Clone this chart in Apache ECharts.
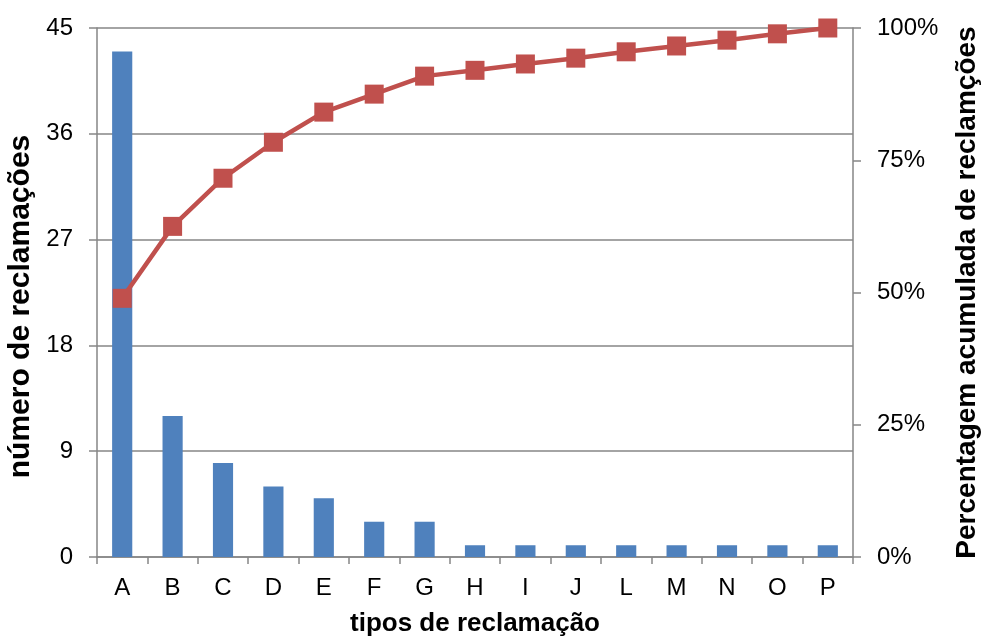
<!DOCTYPE html>
<html>
<head>
<meta charset="utf-8">
<script src="https://cdn.jsdelivr.net/npm/echarts@6/dist/echarts.min.js"></script>
<style>
  html, body { margin: 0; padding: 0; background: #fff; }
  #chart { width: 983px; height: 638px; }
</style>
</head>
<body>
<div id="chart"></div>
<script>
// tipos de reclamação
const categories = ['A', 'B', 'C', 'D', 'E', 'F', 'G', 'H', 'I', 'J', 'L', 'M', 'N', 'O', 'P'];
// número de reclamações
const counts = [43, 12, 8, 6, 5, 3, 3, 1, 1, 1, 1, 1, 1, 1, 1];
// percentagem acumulada (%)
const cumulative = [48.9, 62.5, 71.6, 78.4, 84.1, 87.5, 90.9, 92.0, 93.2, 94.3, 95.5, 96.6, 97.7, 98.9, 100];

const font = 'Liberation Sans, Arial, sans-serif';
const axisGray = '#868686';

const chart = echarts.init(document.getElementById('chart'));
chart.setOption({
  animation: false,
  textStyle: { fontFamily: font },
  grid: { left: 97, right: 130, top: 28, bottom: 81, containLabel: false, outerBoundsMode: 'none' },
  xAxis: {
    type: 'category',
    data: categories,
    name: 'tipos de reclamação',
    nameLocation: 'middle',
    nameGap: 54,
    nameTextStyle: { fontSize: 26, fontWeight: 'bold', color: '#000', fontFamily: font },
    axisLine: { lineStyle: { color: axisGray, width: 1.5 } },
    axisTick: { show: true, length: 7, alignWithLabel: false, lineStyle: { color: axisGray, width: 1.5 } },
    axisLabel: { fontSize: 24, color: '#000', margin: 19, fontFamily: font }
  },
  yAxis: [
    {
      type: 'value',
      min: 0, max: 45, interval: 9,
      name: 'número de reclamações',
      nameLocation: 'middle',
      nameGap: 58,
      nameRotate: 90,
      nameTextStyle: { fontSize: 30, fontWeight: 'bold', color: '#000', fontFamily: font, padding: [0, 28, 0, 0] },
      axisLine: { show: true, lineStyle: { color: axisGray, width: 1.5 } },
      axisTick: { show: true, length: 8, lineStyle: { color: axisGray, width: 1.5 } },
      axisLabel: { fontSize: 24, color: '#000', margin: 24, fontFamily: font },
      splitLine: { show: true, lineStyle: { color: axisGray, width: 1.5 } }
    },
    {
      type: 'value',
      min: 0, max: 100, interval: 25,
      name: 'Percentagem acumulada de reclamções',
      nameLocation: 'middle',
      nameGap: 100,
      nameRotate: 90,
      nameTextStyle: { fontSize: 28, fontWeight: 'bold', color: '#000', fontFamily: font },
      axisLine: { show: true, lineStyle: { color: axisGray, width: 1.5 } },
      axisTick: { show: true, length: 8, lineStyle: { color: axisGray, width: 1.5 } },
      axisLabel: { fontSize: 24, color: '#000', margin: 24, formatter: '{value}%', fontFamily: font },
      splitLine: { show: false }
    }
  ],
  series: [
    {
      name: 'número de reclamações',
      type: 'bar',
      data: counts,
      yAxisIndex: 0,
      barWidth: '40%',
      itemStyle: { color: '#4F81BD' }
    },
    {
      name: 'Percentagem acumulada',
      type: 'line',
      data: cumulative,
      yAxisIndex: 1,
      symbol: 'rect',
      symbolSize: 19,
      lineStyle: { color: '#C0504D', width: 4.5 },
      itemStyle: { color: '#C0504D' }
    }
  ]
});
</script>
</body>
</html>
